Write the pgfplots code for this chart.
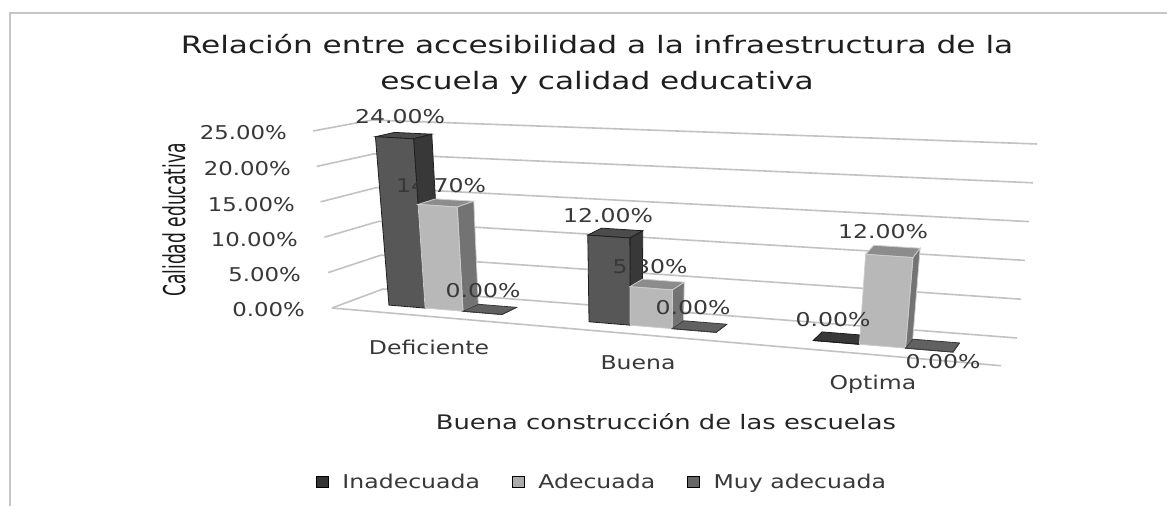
\documentclass[border=0pt]{standalone}
\usepackage{pgfplots}
\pgfplotsset{compat=1.18}
\usepackage{fontspec}
\setmainfont{DejaVu Sans}
% trilinear map of (u = along floor 0..3, d = depth 0..1, z = value 0..25) to picture pixels
\newcommand\PX[3]{((1-(#3)/25)*((1-(#2))*((1-(#1)/3)*332+(#1)/3*1001)+(#2)*((1-(#1)/3)*383+(#1)/3*1017))+(#3)/25*((1-(#2))*((1-(#1)/3)*313+(#1)/3*1023)+(#2)*((1-(#1)/3)*372+(#1)/3*1037)))}
\newcommand\PY[3]{(-((1-(#3)/25)*((1-(#2))*((1-(#1)/3)*308+(#1)/3*365.7)+(#2)*((1-(#1)/3)*289+(#1)/3*338))+(#3)/25*((1-(#2))*((1-(#1)/3)*131+(#1)/3*175.7)+(#2)*((1-(#1)/3)*120+(#1)/3*144))))}
\pgfplotsset{table/proj/.style={row sep=\\,
  x expr={\PX{\thisrow{u}}{\thisrow{d}}{\thisrow{z}}},
  y expr={\PY{\thisrow{u}}{\thisrow{d}}{\thisrow{z}}}}}
% \barthree{u0}{u1}{value}{front}{side}{top}{edge}
\newcommand\barthree[7]{%
  \addplot[forget plot,fill=#6,draw=#7,line width=.8pt] table[proj] {u d z\\ #1 0.33 #3\\ #2 0.33 #3\\ #2 0.67 #3\\ #1 0.67 #3\\} --cycle;
  \addplot[forget plot,fill=#5,draw=#7,line width=.8pt] table[proj] {u d z\\ #2 0.33 0\\ #2 0.67 0\\ #2 0.67 #3\\ #2 0.33 #3\\} --cycle;
  \addplot[forget plot,fill=#4,draw=#7,line width=.8pt] table[proj] {u d z\\ #1 0.33 0\\ #2 0.33 0\\ #2 0.33 #3\\ #1 0.33 #3\\} --cycle;
}
\newcommand\grid[1]{%
  \addplot[forget plot,draw=gridc,line width=1.6pt] table[proj] {u d z\\ 0 0 #1\\ 0 1 #1\\ 3 1 #1\\};
}
\definecolor{gridc}{gray}{0.76}
\definecolor{txt}{gray}{0.22}
\newcommand\W[2][1.24]{\scalebox{#1}[1]{#2}}
\newcommand\lab{\fontsize{19}{22}\selectfont\color{txt}}
\begin{document}
\begin{tikzpicture}
\useasboundingbox (0,0) rectangle (1167pt,506pt);
\begin{axis}[
  at={(0,0)}, anchor=south west,
  scale only axis, width=1167pt, height=506pt,
  xmin=0, xmax=1167, ymin=-506, ymax=0,
  axis lines=none, clip=false, no markers,
  legend columns=3,
  legend style={draw=none,fill=none,at={(axis cs:602,-482)},anchor=center,font=\lab,
    /tikz/every even column/.append style={column sep=30pt}},
  legend image code/.code={\fill[#1] (0cm,-5.5pt) rectangle (12pt,5.5pt);},
]
% chart frame
\addplot[forget plot,draw=gray!45,line width=1.6pt] coordinates {(10,-506) (10,-13) (1167,-13)};
% walls and floor
\grid{5}\grid{10}\grid{15}\grid{20}\grid{25}
\addplot[forget plot,draw=gridc,line width=1.6pt] table[proj] {u d z\\ 0 0 0\\ 0 1 0\\ 3 1 0\\};
\addplot[forget plot,draw=gridc,line width=1.6pt] table[proj] {u d z\\ 0 0 0\\ 3 0 0\\};
% Deficiente
\barthree{0.183}{0.348}{24}{black!66}{black!78}{black!70}{black!88}
\barthree{0.348}{0.521}{14.7}{black!28}{black!55}{black!45}{black!20}
\barthree{0.521}{0.699}{0}{black!60}{black!60}{black!62}{black!78}
% Buena
\barthree{1.096}{1.283}{12}{black!66}{black!78}{black!70}{black!88}
\barthree{1.283}{1.475}{5.3}{black!28}{black!55}{black!45}{black!20}
\barthree{1.475}{1.676}{0}{black!60}{black!60}{black!62}{black!78}
% Optima
\barthree{2.119}{2.33}{0}{black!66}{black!78}{black!78}{black!90}
\barthree{2.33}{2.54}{12}{black!28}{black!55}{black!45}{black!20}
\barthree{2.54}{2.757}{0}{black!60}{black!60}{black!62}{black!78}
% legend
\addlegendimage{fill=black!80}
\addlegendimage{fill=black!33}
\addlegendimage{fill=black!60}
\legend{\hspace{12pt}\W{Inadecuada},\hspace{12pt}\W{Adecuada},\hspace{12pt}\W{Muy adecuada}}
% title
\node[font=\fontsize{24}{36}\selectfont,align=center,text=black!88] at (axis cs:597,-64) {\W[1.3]{Relación entre accesibilidad a la infraestructura de la}\\\W[1.3]{escuela y calidad educativa}};
% data labels
\node[font=\lab] at (axis cs:400,-117) {\W{24.00\%}};
\node[font=\lab] at (axis cs:441,-186) {\W{14.70\%}};
\node[font=\lab] at (axis cs:483,-291) {\W{0.00\%}};
\node[font=\lab] at (axis cs:608,-216) {\W{12.00\%}};
\node[font=\lab] at (axis cs:650,-267) {\W{5.30\%}};
\node[font=\lab] at (axis cs:693,-308) {\W{0.00\%}};
\node[font=\lab] at (axis cs:833,-320) {\W{0.00\%}};
\node[font=\lab] at (axis cs:883,-232) {\W{12.00\%}};
\node[font=\lab] at (axis cs:943,-362) {\W{0.00\%}};
% value axis
\node[anchor=east,font=\lab,inner sep=0pt] at (axis cs:287,-133) {\W[1.2]{25.00\%}};
\node[anchor=east,font=\lab,inner sep=0pt] at (axis cs:291,-169) {\W[1.2]{20.00\%}};
\node[anchor=east,font=\lab,inner sep=0pt] at (axis cs:295,-205) {\W[1.2]{15.00\%}};
\node[anchor=east,font=\lab,inner sep=0pt] at (axis cs:298,-240) {\W[1.2]{10.00\%}};
\node[anchor=east,font=\lab,inner sep=0pt] at (axis cs:301,-275) {\W[1.2]{5.00\%}};
\node[anchor=east,font=\lab,inner sep=0pt] at (axis cs:305,-310) {\W[1.2]{0.00\%}};
% categories
\node[font=\lab] at (axis cs:429,-347) {\W{Deficiente}};
\node[font=\lab] at (axis cs:638,-363) {\W{Buena}};
\node[font=\lab] at (axis cs:873,-384) {\W{Optima}};
% axis titles
\node[font=\fontsize{20}{24}\selectfont,text=black!85] at (axis cs:666,-422) {\W[1.29]{Buena construcción de las escuelas}};
\node[font=\fontsize{30}{30}\selectfont,rotate=90,text=black!90] at (axis cs:174,-220) {\scalebox{.57}[1]{Calidad educativa}};
\end{axis}
\end{tikzpicture}
\end{document}
